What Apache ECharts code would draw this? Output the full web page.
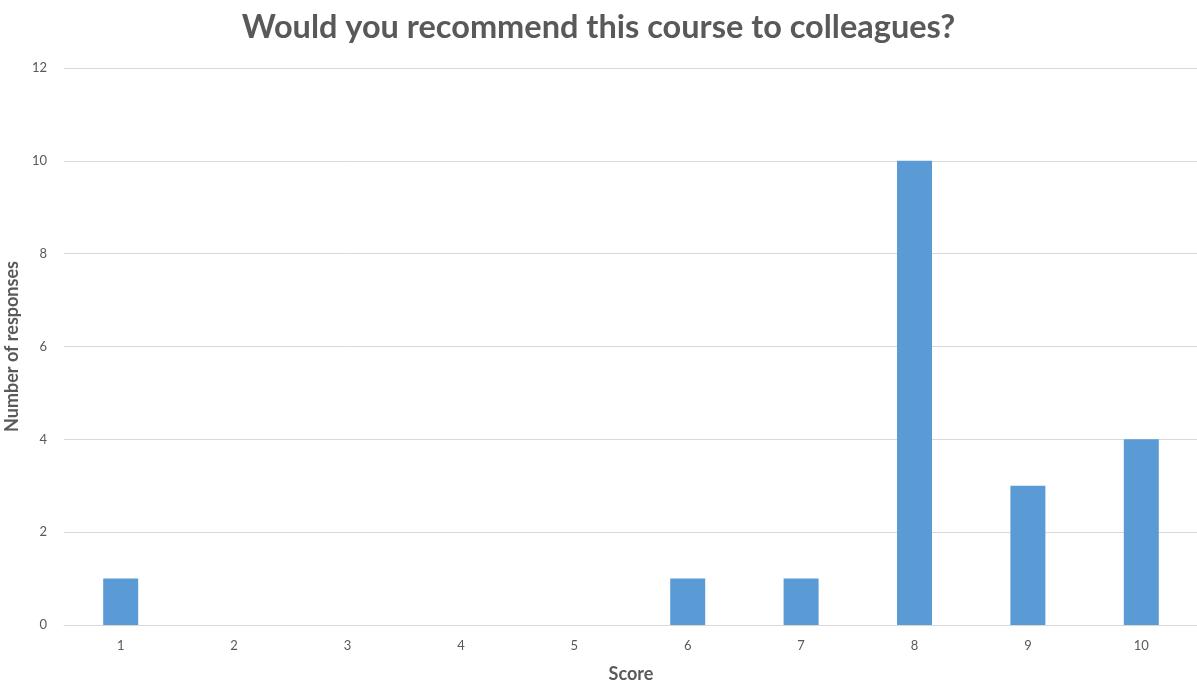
<!DOCTYPE html>
<html>
<head>
<meta charset="utf-8">
<script src="https://cdn.jsdelivr.net/npm/echarts@6/dist/echarts.min.js"></script>
<style>html,body{margin:0;padding:0;background:#fff}#c{width:1197px;height:685px}</style>
</head>
<body>
<div id="c"></div>
<script>
const categories = ['1','2','3','4','5','6','7','8','9','10'];
const responses = [1,0,0,0,0,1,1,10,3,4];
const yTicks = {min:0, max:12, interval:2};
const titleText = 'Would you recommend this course to colleagues?';

const chart = echarts.init(document.getElementById('c'));
chart.setOption({
  animation:false,
  title:{text:titleText,left:'center',top:6,textStyle:{fontFamily:'Lato',fontWeight:'bold',fontSize:32.5,color:'#595959'}},
  grid:{left:64,right:-1,top:68,bottom:60,containLabel:false,outerBoundsMode:'none'},
  xAxis:{type:'category',data:categories,name:'Score',nameLocation:'middle',nameGap:40,
    nameTextStyle:{fontFamily:'Lato',fontWeight:'bold',fontSize:18,color:'#595959'},
    axisLine:{lineStyle:{color:'#d9d9d9',width:1}},axisTick:{show:false},
    axisLabel:{fontFamily:'Lato',fontSize:13,color:'#595959',margin:14}},
  yAxis:{type:'value',min:yTicks.min,max:yTicks.max,interval:yTicks.interval,name:'Number of responses',nameLocation:'middle',nameGap:34,
    nameTextStyle:{fontFamily:'Lato',fontWeight:'bold',fontSize:18,color:'#595959'},
    axisLine:{show:false},axisTick:{show:false},
    axisLabel:{fontFamily:'Lato',fontSize:13,color:'#595959',margin:17},
    splitLine:{lineStyle:{color:'#d9d9d9',width:1}}},
  series:[{type:'bar',data:responses,barWidth:35,itemStyle:{color:'#5b9bd5'}}]
});
</script>
</body>
</html>
